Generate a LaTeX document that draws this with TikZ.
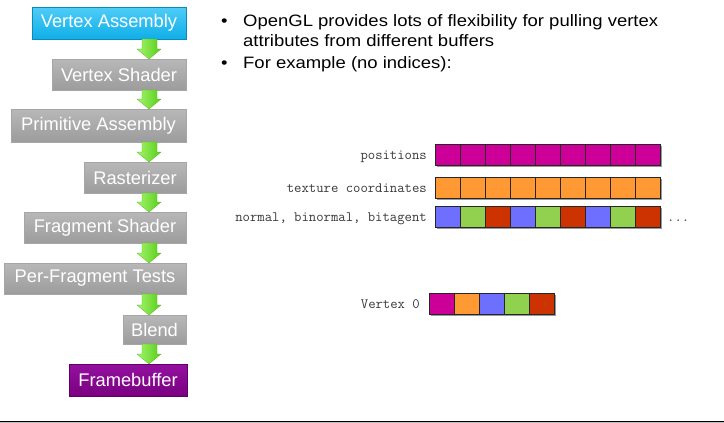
\documentclass[tikz,border=0pt]{standalone}
\usepackage{fontspec}
\setmainfont{Liberation Sans}
\newfontfamily\bulletfont[FakeStretch=1.12]{Liberation Sans}
\usetikzlibrary{calc}
\definecolor{cyantop}{HTML}{4FCDF7}
\definecolor{cyanbot}{HTML}{0FAEE8}
\definecolor{graytop}{HTML}{B8B8B8}
\definecolor{graybot}{HTML}{9C9C9C}
\definecolor{purptop}{HTML}{9410A0}
\definecolor{purpbot}{HTML}{7A0080}
\definecolor{grnlight}{HTML}{A4F56A}
\definecolor{grndark}{HTML}{58CC1C}
\definecolor{cmag}{HTML}{CC0099}
\definecolor{corange}{HTML}{FF9933}
\definecolor{cblue}{HTML}{6F6FFF}
\definecolor{cgreen}{HTML}{92D050}
\definecolor{cred}{HTML}{CC3300}
\definecolor{labelgray}{HTML}{3A3A3A}
\tikzset{
  stagebox/.style={minimum height=31pt, inner sep=0pt, outer sep=0pt, text=white,
    font=\fontsize{18.3}{20}\selectfont, anchor=north east, line width=0.6pt},
  graystage/.style={stagebox, top color=graytop, bottom color=graybot, draw=black!35},
  cyanstage/.style={stagebox, top color=cyantop, bottom color=cyanbot, draw=cyanbot!80!black},
  purpstage/.style={stagebox, top color=purptop, bottom color=purpbot, draw=purpbot!80!black},
  greenarrow/.style={left color=grnlight, right color=grndark, draw=grndark!90!black, line width=0.3pt},
  cell/.style={draw=black!85, line width=0.7pt, minimum width=25pt, minimum height=21pt,
    inner sep=0pt, outer sep=0pt},
  rowshadow/.style={fill=black!40},
  monolabel/.style={font=\ttfamily\fontsize{14.3}{16}\selectfont, text=labelgray, inner sep=0pt, anchor=base east},
  bullettext/.style={font=\bulletfont\fontsize{16.5}{18.5}\selectfont, inner sep=0pt, anchor=base west},
}
\newcommand\pipearrow[2]{%
  \path let \p1=(#1.south east), \p2=(#2.north east) in [greenarrow]
    (\x1-44pt,\y1) -- (\x1-29pt,\y1) -- (\x1-29pt,\y2+10pt) -- (\x1-25pt,\y2+10pt)
    -- (\x1-37pt,\y2) -- (\x1-49pt,\y2+10pt) -- (\x1-44pt,\y2+10pt) -- cycle;}
\begin{document}
\begin{tikzpicture}[x=1pt,y=-1pt]
\useasboundingbox (0,0) rectangle (724,423);
\fill[white] (0,0) rectangle (724,423);

% pipeline stages
\node[cyanstage, minimum width=154pt, minimum height=32pt] (va) at (186,7) {Vertex Assembly};
\node[graystage, minimum width=134pt] (vs) at (186,59) {Vertex Shader};
\node[graystage, minimum width=175pt, minimum height=33pt] (pa) at (186,109) {Primitive Assembly};
\node[graystage, minimum width=102pt] (ra) at (186,162) {Rasterizer};
\node[graystage, minimum width=162pt] (fs) at (186,212) {Fragment Shader};
\node[graystage, minimum width=182pt] (pf) at (186,263) {Per-Fragment Tests};
\node[graystage, minimum width=63pt, minimum height=29pt] (bl) at (186,315) {Blend};
\node[purpstage, minimum width=118pt, minimum height=32pt] (fb) at (187,364) {Framebuffer};

\pipearrow{va}{vs}
\pipearrow{vs}{pa}
\pipearrow{pa}{ra}
\pipearrow{ra}{fs}
\pipearrow{fs}{pf}
\pipearrow{pf}{bl}
\pipearrow{bl}{fb}

% bullets
\node[bullettext] (b1) at (221,27) {\textbullet};
\node[bullettext] (t1a) at (243,27) {OpenGL provides lots of flexibility for pulling vertex};
\node[bullettext] (t1b) at (243,46) {attributes from different buffers};
\node[bullettext] (b2) at (221,68) {\textbullet};
\node[bullettext] (t2) at (243,68) {For example (no indices):};

% buffers
\fill[rowshadow] (436.5,145.5) rectangle (661.5,166.5);
\fill[rowshadow] (436.5,178.5) rectangle (661.5,199.5);
\fill[rowshadow] (436.5,207.5) rectangle (661.5,228.5);
\fill[rowshadow] (430.5,294.5) rectangle (555.5,315.5);

\foreach \c [count=\i from 0] in {cmag,cmag,cmag,cmag,cmag,cmag,cmag,cmag,cmag}
  \node[cell, fill=\c] (pos\i) at (447.5+25*\i,154.5) {};
\foreach \c [count=\i from 0] in {corange,corange,corange,corange,corange,corange,corange,corange,corange}
  \node[cell, fill=\c] (tex\i) at (447.5+25*\i,187.5) {};
\foreach \c [count=\i from 0] in {cblue,cgreen,cred,cblue,cgreen,cred,cblue,cgreen,cred}
  \node[cell, fill=\c] (nrm\i) at (447.5+25*\i,216.5) {};
\foreach \c [count=\i from 0] in {cmag,corange,cblue,cgreen,cred}
  \node[cell, fill=\c] (v\i) at (441.5+25*\i,303.5) {};

\node[monolabel] (lpos) at (427,159) {positions};
\node[monolabel] (ltex) at (427,192) {texture coordinates};
\node[monolabel] (lnrm) at (427,221.5) {normal, binormal, bitagent};
\node[monolabel] (lv0) at (420,308) {Vertex 0};
\node[monolabel, anchor=base west] (dots) at (667,221.5) {...};

% bottom rule
\draw[black!25, line width=1pt] (0,422.8) -- (724,422.8);
\draw[black, line width=1.4pt] (0,421.4) -- (724,421.4);
\end{tikzpicture}
\end{document}
